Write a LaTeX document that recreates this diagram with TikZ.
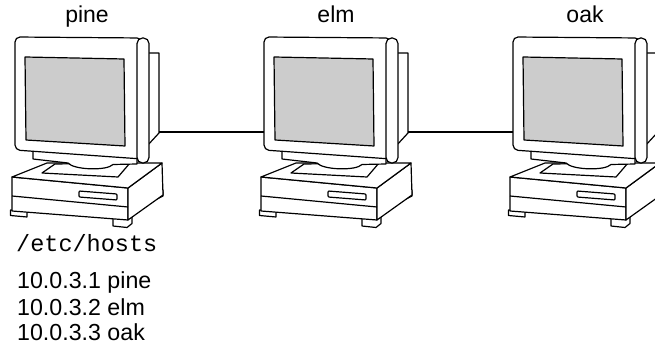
\documentclass[tikz,border=0pt]{standalone}
\usepackage{fontspec}
\setmainfont{Liberation Sans}
\setmonofont{Liberation Mono}
\definecolor{screengray}{HTML}{CCCCCC}
\tikzset{
	part/.style={draw=black, line width=1.2pt, fill=white, line join=round},
	seam/.style={draw=black, line width=1.2pt},
	cable/.style={draw=black, line width=1.1pt},
	hosttitle/.style={inner sep=0pt, anchor=base, font=\fontsize{23}{27}\selectfont},
	filename/.style={inner sep=0pt, anchor=base west, font=\ttfamily\fontsize{23.5}{27}\selectfont},
	entry/.style={inner sep=0pt, anchor=base west, font=\fontsize{23.2}{27}\selectfont},
	computer/.pic={
		% feet
		\path[part] (10.5,210) -- (10.5,215.5) -- (27,217) -- (27,211.5) -- cycle;
		\path[part] (113,218) -- (113,226) -- (127,227.5) -- (132,223.5) -- (132,216) -- cycle;
		\path[part] (155,194) -- (156,199.5) -- (163,196) -- (163,190) -- cycle;
		% case
		\path[part] (12,177) -- (128,188) -- (128,220) -- (12,211) -- cycle;
		\path[part] (128,188) -- (162,163) -- (163,195) -- (128,220) -- cycle;
		\path[part] (12,177) -- (47,163) -- (162,163) -- (128,188) -- cycle;
		\path[seam] (12,196) -- (128,207);
		\path[part, rounded corners=1pt] (79,191) -- (117,194) -- (117,200) -- (79,197) -- cycle;
		% stand
		\path[part] (42,173) -- (55,164) -- (130,163) -- (118,177) -- cycle;
		\path[part] (33,150) -- (33,159) -- (68,163) .. controls (74,170) and (107,171) .. (113,164.5) -- (137,164) -- (137,155) -- cycle;
		% monitor
		\path[part] (147,53) -- (159,53) -- (159,133) -- (147,146) -- cycle;
		\path[part, rounded corners=5pt] (15,37) -- (142,38) -- (142,159) -- (15,150) -- cycle;
		\path[part, fill=screengray] (25,57) -- (124,59) -- (125,146) -- (26,140) -- cycle;
		\path[part, rounded corners=5.5pt] (137,38) rectangle (149,163);
		\coordinate (-port) at (159,132);
		\coordinate (-front) at (15,132);
	}
}
\begin{document}
\begin{tikzpicture}[x=1pt, y=-1pt]
	\clip (0,0) rectangle (655,344);
	\pic (pine) at (0,0) {computer};
	\pic (elm) at (249,0) {computer};
	\pic (oak) at (498,0) {computer};
	\draw[cable] (pine-port) -- (elm-front);
	\draw[cable] (elm-port) -- (oak-front);
	\node[hosttitle] (pine-title) at (87,23) {pine};
	\node[hosttitle] (elm-title) at (336,23) {elm};
	\node[hosttitle] (oak-title) at (585,23) {oak};
	\node[filename] (hosts-file) at (16,252) {/etc/hosts};
	\node[entry] (entry-pine) at (17,289) {10.0.3.1 pine};
	\node[entry] (entry-elm) at (17,315) {10.0.3.2 elm};
	\node[entry] (entry-oak) at (17,340.5) {10.0.3.3 oak};
\end{tikzpicture}
\end{document}
